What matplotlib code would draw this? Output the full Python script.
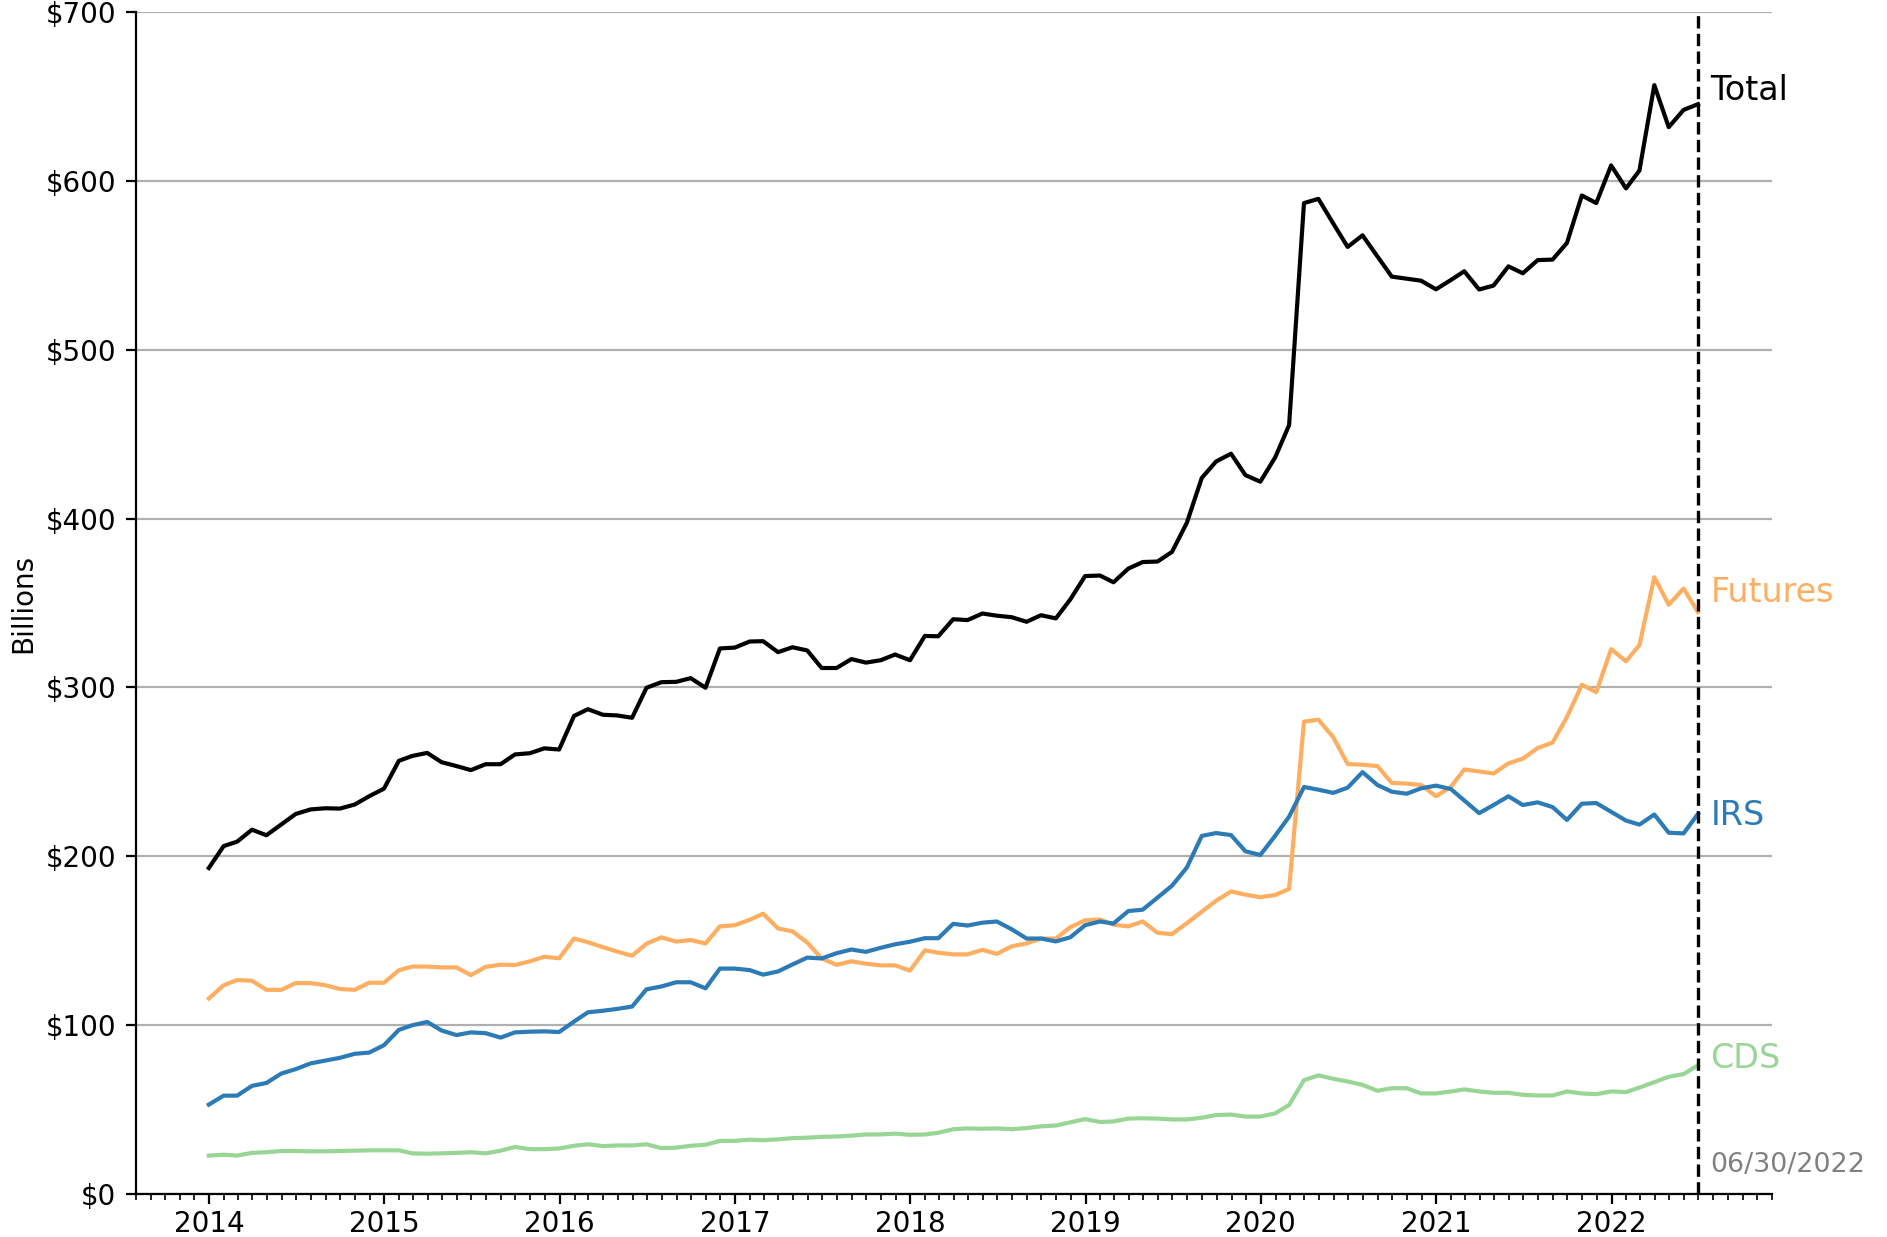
import numpy as np
import pandas as pd
import matplotlib
matplotlib.use("Agg")
import matplotlib.pyplot as plt
import matplotlib.dates as mdates
from matplotlib.ticker import FuncFormatter

# ----------------------------
# Data (month-end, billions)
# ----------------------------
dates = pd.date_range("2013-12-31", "2022-06-30", freq="ME")

total = [193.0, 206.0, 208.6, 215.7, 212.4, 218.8, 225.0, 227.7, 228.4, 228.2, 230.6, 235.5,
         240.0, 256.5, 259.4, 261.2, 255.7, 253.4, 251.0, 254.5, 254.5, 260.3, 261.0, 263.9,
         263.2, 283.1, 287.1, 283.8, 283.4, 282.0, 299.8, 303.1, 303.3, 305.5, 299.8, 323.1,
         323.6, 327.2, 327.4, 320.9, 323.8, 321.9, 311.5, 311.5, 316.8, 314.7, 316.1, 319.5,
         316.1, 330.5, 330.3, 340.4, 339.9, 343.8, 342.5, 341.6, 338.9, 342.8, 340.9, 352.1,
         366.0, 366.3, 362.3, 370.4, 374.3, 374.6, 380.3, 397.6, 424.1, 433.9, 438.5, 425.8,
         421.9, 436.3, 455.4, 587.0, 589.5, 574.9, 561.0, 567.9, 555.4, 543.4, 542.2, 541.0,
         535.9, 541.4, 546.6, 535.8, 538.1, 549.5, 545.4, 553.2, 553.5, 563.4, 591.5, 587.0,
         609.3, 595.7, 606.3, 656.9, 632.0, 642.2, 645.6]

futures = [115.7, 123.5, 126.6, 126.2, 120.8, 120.8, 124.8, 124.8, 123.5, 121.3, 120.8, 125.0,
           125.0, 132.4, 134.6, 134.6, 134.1, 134.1, 129.5, 134.4, 135.7, 135.5, 137.7, 140.4,
           139.5, 151.2, 149.0, 146.1, 143.5, 141.0, 148.1, 151.9, 149.4, 150.3, 148.3, 158.4,
           159.1, 162.3, 165.9, 157.2, 155.5, 148.8, 139.4, 135.6, 137.7, 136.3, 135.3, 135.3,
           132.2, 144.2, 142.8, 141.8, 141.8, 144.5, 142.1, 146.6, 148.3, 151.2, 151.2, 157.9,
           162.0, 162.5, 159.4, 158.4, 161.3, 154.6, 153.8, 160.3, 167.1, 173.6, 179.1, 177.2,
           175.7, 177.0, 180.6, 279.7, 280.9, 270.5, 254.6, 254.2, 253.4, 243.4, 243.0, 242.2,
           235.5, 241.0, 251.4, 250.2, 249.0, 255.0, 257.8, 264.1, 267.3, 282.5, 301.6, 297.2,
           322.7, 315.5, 325.1, 365.3, 349.0, 358.6, 344.6]

irs = [52.8, 58.1, 58.1, 63.9, 65.6, 71.2, 73.8, 77.2, 78.9, 80.5, 82.9, 83.6,
       88.0, 97.1, 99.8, 101.8, 96.7, 94.0, 95.6, 95.1, 92.5, 95.6, 96.0, 96.2,
       95.8, 102.0, 107.5, 108.4, 109.5, 110.9, 121.1, 122.8, 125.3, 125.3, 121.7, 133.4,
       133.4, 132.5, 129.8, 131.7, 135.8, 139.9, 139.4, 142.5, 144.7, 143.3, 145.7, 147.8,
       149.3, 151.4, 151.4, 159.9, 158.9, 160.6, 161.3, 156.7, 151.2, 151.2, 149.5, 151.9,
       159.1, 161.3, 160.1, 167.5, 168.3, 175.5, 182.5, 193.3, 212.0, 213.7, 212.5, 202.9,
       200.7, 212.1, 223.4, 241.0, 239.4, 237.5, 240.6, 249.8, 242.2, 238.2, 237.0, 240.2,
       241.8, 239.8, 233.0, 225.5, 230.3, 235.5, 230.3, 231.9, 229.1, 221.5, 231.1, 231.5,
       226.3, 221.1, 218.7, 224.7, 213.9, 213.5, 225.1]

cds = [22.6, 23.1, 22.6, 24.2, 24.6, 25.3, 25.3, 25.1, 25.1, 25.3, 25.5, 25.7,
       25.7, 25.7, 23.9, 23.7, 23.9, 24.2, 24.6, 23.9, 25.5, 27.7, 26.4, 26.4,
       26.8, 28.4, 29.3, 28.2, 28.6, 28.6, 29.3, 27.0, 27.3, 28.4, 29.0, 31.3,
       31.3, 32.0, 31.7, 32.2, 32.9, 33.2, 33.7, 33.9, 34.4, 35.1, 35.1, 35.6,
       34.9, 35.1, 36.1, 38.2, 38.7, 38.5, 38.7, 38.2, 38.9, 39.9, 40.4, 42.3,
       44.2, 42.5, 42.8, 44.5, 44.7, 44.5, 44.0, 44.0, 45.0, 46.6, 46.9, 45.7,
       45.7, 47.6, 52.6, 67.3, 70.1, 68.1, 66.5, 64.5, 61.0, 62.5, 62.5, 59.4,
       59.4, 60.6, 61.8, 60.6, 59.8, 59.8, 58.6, 58.2, 58.2, 60.6, 59.4, 59.0,
       60.6, 60.2, 62.9, 66.1, 69.3, 70.9, 76.1]

series_names = ["Total", "Futures", "IRS", "CDS"]
series_vals = [total, futures, irs, cds]
series_colors = ["black", "#fdae61", "#2c7bb6", "#99d594"]
label_y = [654, 356, 224, 80]   # where the end labels sit (data units)

asof = pd.Timestamp("2022-06-30")

# ----------------------------
# Plot
# ----------------------------
fig = plt.figure(figsize=(9.435, 6.185), dpi=200)
ax = fig.add_axes([0.072, 0.035, 0.867, 0.955])

for name, vals, c in zip(series_names, series_vals, series_colors):
    ax.plot(dates, vals, color=c, linewidth=1.5, label=name)

ax.axvline(asof, color="black", linestyle="--", linewidth=1.2)

for name, y, c in zip(series_names, label_y, series_colors):
    ax.annotate(name, xy=(mdates.date2num(asof), y), xytext=(4.5, 0),
                textcoords="offset points", color=c, fontsize=12,
                va="center", ha="left", annotation_clip=False)
ax.annotate(asof.strftime("%m/%d/%Y"), xy=(mdates.date2num(asof), 17), xytext=(4.5, 0),
            textcoords="offset points", color="gray", fontsize=9.7,
            va="center", ha="left", annotation_clip=False)

ax.set_ylim(0, 700)
ax.set_yticks(np.arange(0, 701, 100))
ax.yaxis.set_major_formatter(FuncFormatter(lambda v, p: f"${v:,.0f}"))
ax.set_ylabel("Billions", fontsize=10, labelpad=3)

ax.set_xlim(pd.Timestamp("2013-08-01"), pd.Timestamp("2022-12-01"))
ax.xaxis.set_major_locator(mdates.YearLocator())
ax.xaxis.set_major_formatter(mdates.DateFormatter("%Y"))
ax.xaxis.set_minor_locator(mdates.MonthLocator())
ax.tick_params(axis="both", labelsize=10)
ax.tick_params(axis="x", which="major", pad=2.5)

ax.grid(axis="y", color="#b0b0b0", linewidth=0.8)
ax.set_axisbelow(True)
ax.spines["top"].set_visible(False)
ax.spines["right"].set_visible(False)

fig.savefig("out.png", dpi=200)
